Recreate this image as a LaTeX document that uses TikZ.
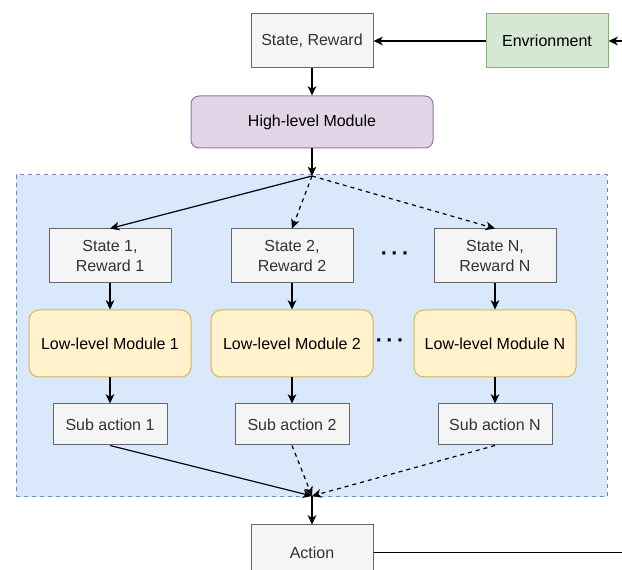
\documentclass[tikz,border=0pt]{standalone}
\usepackage{fontspec}
\setmainfont{Liberation Sans}
\usetikzlibrary{arrows.meta}
\definecolor{grayfill}{HTML}{F5F5F5}
\definecolor{graystroke}{HTML}{666666}
\definecolor{graytext}{HTML}{333333}
\definecolor{greenfill}{HTML}{D5E8D4}
\definecolor{greenstroke}{HTML}{82B366}
\definecolor{purplefill}{HTML}{E1D5E7}
\definecolor{purplestroke}{HTML}{9673A6}
\definecolor{yellowfill}{HTML}{FFF2CC}
\definecolor{yellowstroke}{HTML}{D6B656}
\definecolor{bluefill}{HTML}{DAE8FC}
\definecolor{bluestroke}{HTML}{6C8EBF}
\tikzset{
  graybox/.style={draw=graystroke, fill=grayfill, text=graytext, line width=0.75pt, minimum width=91.5pt, minimum height=40.5pt, align=center, inner sep=0pt, font=\fontsize{12}{14.5}\selectfont},
  subbox/.style={graybox, minimum width=85.5pt, minimum height=30.75pt},
  envbox/.style={draw=greenstroke, fill=greenfill, line width=0.75pt, minimum width=91.5pt, minimum height=40.5pt, inner sep=0pt, font=\fontsize{12}{14.5}\selectfont},
  highbox/.style={draw=purplestroke, fill=purplefill, rounded corners=6pt, line width=0.75pt, minimum width=181.5pt, minimum height=39pt, inner sep=0pt, font=\fontsize{12}{14.5}\selectfont},
  lowbox/.style={draw=yellowstroke, fill=yellowfill, rounded corners=7.5pt, line width=0.75pt, minimum width=121.5pt, minimum height=50.25pt, inner sep=0pt, font=\fontsize{12}{14.5}\selectfont},
  arr/.style={-{Stealth[length=7pt,width=6.5pt,inset=2pt]}, line width=0.9pt},
  plain/.style={line width=0.9pt},
  dsh/.style={dash pattern=on 3pt off 3pt},
  dotstext/.style={font=\fontsize{16}{16}\bfseries\selectfont, inner sep=0pt},
}
\begin{document}
\begin{tikzpicture}[x=0.75pt, y=-0.75pt]
\useasboundingbox (0,0) rectangle (622,570);
\clip (0,0) rectangle (622,570);
% container
\node[draw=bluestroke, fill=bluefill, dash pattern=on 3pt off 3pt, line width=0.75pt, minimum width=443.25pt, minimum height=241.5pt, inner sep=0pt] (cont) at (311.5,336) {};
% top
\node[graybox] (sr) at (312,41) {State, Reward};
\node[envbox] (env) at (547,41) {Envrionment};
\node[highbox] (high) at (312,122) {High-level Module};
% states
\node[graybox] (s1) at (110,256) {State 1,\\Reward 1};
\node[graybox] (s2) at (292,256) {State 2,\\Reward 2};
\node[graybox] (sn) at (495,256) {State N,\\Reward N};
\node[dotstext] (d1) at (395,256) {·\,·\,·};
% low-level
\node[lowbox] (l1) at (110,343.5) {Low-level Module 1};
\node[lowbox] (l2) at (292,343.5) {Low-level Module 2};
\node[lowbox] (ln) at (495,343.5) {Low-level Module N};
\node[dotstext] (d2) at (390,343) {·\,·\,·};
% sub actions
\node[subbox] (a1) at (110,424.5) {Sub action 1};
\node[subbox] (a2) at (292,424.5) {Sub action 2};
\node[subbox] (an) at (495,424.5) {Sub action N};
% action
\node[graybox, minimum height=41.25pt] (act) at (312,552.5) {Action};
% coordinates
\coordinate (split) at (312,176);
\coordinate (merge) at (312,496);
\coordinate (envin) at (630,41);
\coordinate (actout) at (630,552.5);
% connectors
\draw[arr] (envin) -- (env);
\draw[arr] (env) -- (sr);
\draw[arr] (sr) -- (high);
\draw[arr] (high) -- (split);
\draw[arr] (split) -- (s1.north);
\draw[arr, dsh] (split) -- (s2.north);
\draw[arr, dsh] (split) -- (sn.north);
\draw[arr] (s1) -- (l1);
\draw[arr] (s2) -- (l2);
\draw[arr] (sn) -- (ln);
\draw[arr] (l1) -- (a1);
\draw[arr] (l2) -- (a2);
\draw[arr] (ln) -- (an);
\draw[arr] (a1.south) -- (merge);
\draw[arr, dsh] (a2.south) -- (merge);
\draw[arr, dsh] (an.south) -- (merge);
\draw[arr] (merge) -- (act);
\draw[plain] (act) -- (actout);
\end{tikzpicture}
\end{document}
